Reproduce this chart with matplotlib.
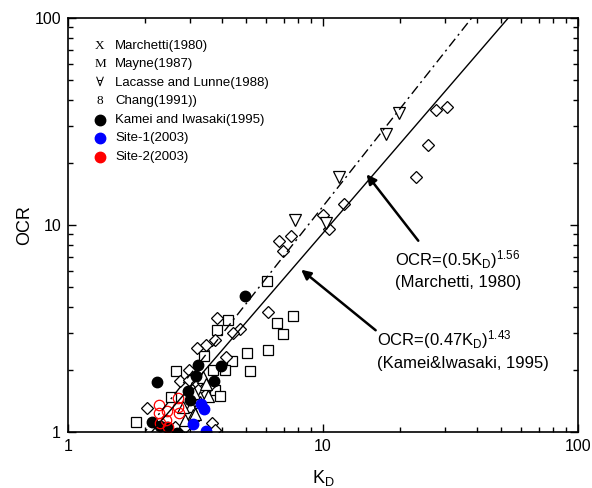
import numpy as np
import matplotlib
matplotlib.use("Agg")
import matplotlib.pyplot as plt
from matplotlib.ticker import NullFormatter

plt.rcParams['font.family'] = ['Liberation Sans', 'DejaVu Sans']
plt.rcParams['mathtext.fontset'] = 'custom'
plt.rcParams['mathtext.rm'] = 'Liberation Sans'
plt.rcParams['mathtext.it'] = 'Liberation Sans:italic'

# --- data (KD, OCR) ---
chang_kd = [27.7, 30.6, 25.8, 23.2, 12.1, 10.0, 10.6, 6.72, 7.49, 6.97, 6.09, 3.84,
            4.73, 4.44, 3.77, 3.48, 3.21, 4.17, 2.98, 2.75, 2.98, 3.21, 3.57, 3.24,
            2.04, 3.67, 3.77, 2.63, 2.88]
chang_ocr = [35.9, 37.2, 24.4, 17.1, 12.6, 11.2, 9.6, 8.37, 8.85, 7.49, 3.80, 3.55,
             3.14, 3.01, 2.78, 2.63, 2.55, 2.30, 1.99, 1.76, 1.78, 1.73, 1.67, 1.60,
             1.31, 1.11, 1.02, 1.06, 1.06]

mayne_kd = [6.03, 6.60, 7.63, 6.97, 6.09, 5.17, 5.04, 4.24, 3.84, 3.42, 4.40, 4.13,
            3.70, 2.65, 3.77, 3.95, 2.53, 1.85]
mayne_ocr = [5.36, 3.36, 3.63, 2.97, 2.49, 1.97, 2.41, 3.48, 3.11, 2.33, 2.20, 1.99,
             1.99, 1.97, 1.60, 1.49, 1.48, 1.12]

marchetti_kd = [3.38, 3.48, 3.29, 3.54, 3.04, 2.83, 3.09, 2.88, 3.12, 3.29, 3.15]
marchetti_ocr = [1.84, 1.71, 1.48, 1.49, 1.34, 1.32, 1.21, 1.14, 1.54, 1.40, 1.22]

lacasse_kd = [19.9, 17.7, 11.5, 7.76, 10.3]
lacasse_ocr = [34.8, 27.5, 17.1, 10.6, 10.2]

kamei_kd = [4.94, 3.24, 3.98, 3.18, 3.74, 2.23, 2.96, 3.01, 2.14, 2.30, 2.45, 2.68]
kamei_ocr = [4.54, 2.11, 2.08, 1.87, 1.76, 1.74, 1.58, 1.43, 1.12, 1.07, 1.06, 0.99]

site1_kd = [3.33, 3.42, 3.09, 3.48]
site1_ocr = [1.36, 1.29, 1.09, 1.01]

site2_kd = [2.28, 2.28, 2.30, 2.45, 2.42, 2.47, 2.70, 2.70, 2.73]
site2_ocr = [1.35, 1.24, 1.11, 1.26, 1.14, 1.06, 1.46, 1.32, 1.24]

# correlations OCR = (a*KD)^b
marchetti_a, marchetti_b = 0.5, 1.56
kamei_a, kamei_b = 0.47, 1.43

legend_glyphs = ['X', 'M', '\u2200', '8']
legend_labels = ['Marchetti(1980)', 'Mayne(1987)', 'Lacasse and Lunne(1988)',
                 'Chang(1991))', 'Kamei and Iwasaki(1995)', 'Site-1(2003)', 'Site-2(2003)']

fig = plt.figure(figsize=(5.92, 4.88), dpi=100)
ax = fig.add_axes([0.1149, 0.1148, 0.8615, 0.8484])

kd = np.logspace(0, 2, 200)
ax.plot(kd, (marchetti_a * kd) ** marchetti_b, color='black', lw=1.0,
        dashes=(7, 3, 1.5, 3), zorder=4)
ax.plot(kd, (kamei_a * kd) ** kamei_b, color='black', lw=1.0, zorder=4)

ow = dict(linestyle='none', mfc='white', mec='black', mew=0.9)
ax.plot(mayne_kd, mayne_ocr, marker='s', ms=6.5, **ow)
ax.plot(chang_kd, chang_ocr, marker='D', ms=6.5, **ow)
ax.plot(lacasse_kd, lacasse_ocr, marker='v', ms=8, **ow)
ax.plot(marchetti_kd, marchetti_ocr, marker='^', ms=8, **ow)
ax.plot(kamei_kd, kamei_ocr, marker='o', ms=7.5, linestyle='none', color='black')
ax.plot(site1_kd, site1_ocr, marker='o', ms=7.5, linestyle='none', color='#0000ff')
ax.plot(site2_kd, site2_ocr, marker='o', ms=7.5, linestyle='none', mfc='none',
        mec='#ff0000', mew=0.9)

ax.set_xscale('log')
ax.set_yscale('log')
ax.set_xlim(1, 100)
ax.set_ylim(1, 100)
ax.set_xticks([1, 10, 100])
ax.set_xticklabels(['1', '10', '100'])
ax.set_yticks([1, 10, 100])
ax.set_yticklabels(['1', '10', '100'])
ax.xaxis.set_minor_formatter(NullFormatter())
ax.yaxis.set_minor_formatter(NullFormatter())
ax.tick_params(which='both', direction='in', top=True, right=True, width=1.0,
               labelsize=11.5, pad=5)
ax.tick_params(which='major', length=6)
ax.tick_params(which='minor', length=3.5)
for s in ax.spines.values():
    s.set_linewidth(1.2)

ax.set_xlabel('K$_\\mathrm{D}$', fontsize=13, labelpad=10)
ax.set_ylabel('OCR', fontsize=13, labelpad=1)

# legend written out by hand, glyph column + label column
y0, dy = 0.9324, 0.0447
for i, lab in enumerate(legend_labels):
    yy = y0 - i * dy
    if i < 4:
        ax.text(0.0627, yy, legend_glyphs[i], transform=ax.transAxes, ha='center',
                va='center', fontsize=9.5, family=['Liberation Serif', 'DejaVu Serif'])
    ax.text(0.092, yy, lab, transform=ax.transAxes, ha='left', va='center', fontsize=9.5)
ax.plot([0.0627], [y0 - 4 * dy], 'o', ms=7.5, color='black', transform=ax.transAxes, clip_on=False)
ax.plot([0.0627], [y0 - 5 * dy], 'o', ms=7.5, color='#0000ff', transform=ax.transAxes, clip_on=False)
ax.plot([0.0627], [y0 - 6 * dy], 'o', ms=7.5, color='#ff0000', transform=ax.transAxes, clip_on=False)

# annotations
ax.text(19.2, 6.41, 'OCR=(0.5K$_\\mathrm{D}$)$^\\mathrm{1.56}$', fontsize=12, va='baseline')
ax.text(19.2, 5.02, '(Marchetti, 1980)', fontsize=12, va='baseline')
ax.annotate('', xy=(14.6, 18.0), xytext=(24.0, 8.19),
            arrowprops=dict(arrowstyle='-|>', color='black', lw=1.8, mutation_scale=14))
ax.text(16.3, 2.63, 'OCR=(0.47K$_\\mathrm{D}$)$^\\mathrm{1.43}$', fontsize=12, va='baseline')
ax.text(16.3, 2.04, '(Kamei&Iwasaki, 1995)', fontsize=12, va='baseline')
ax.annotate('', xy=(8.05, 6.20), xytext=(16.4, 3.04),
            arrowprops=dict(arrowstyle='-|>', color='black', lw=1.8, mutation_scale=14))

fig.savefig('out.png', dpi=100)
